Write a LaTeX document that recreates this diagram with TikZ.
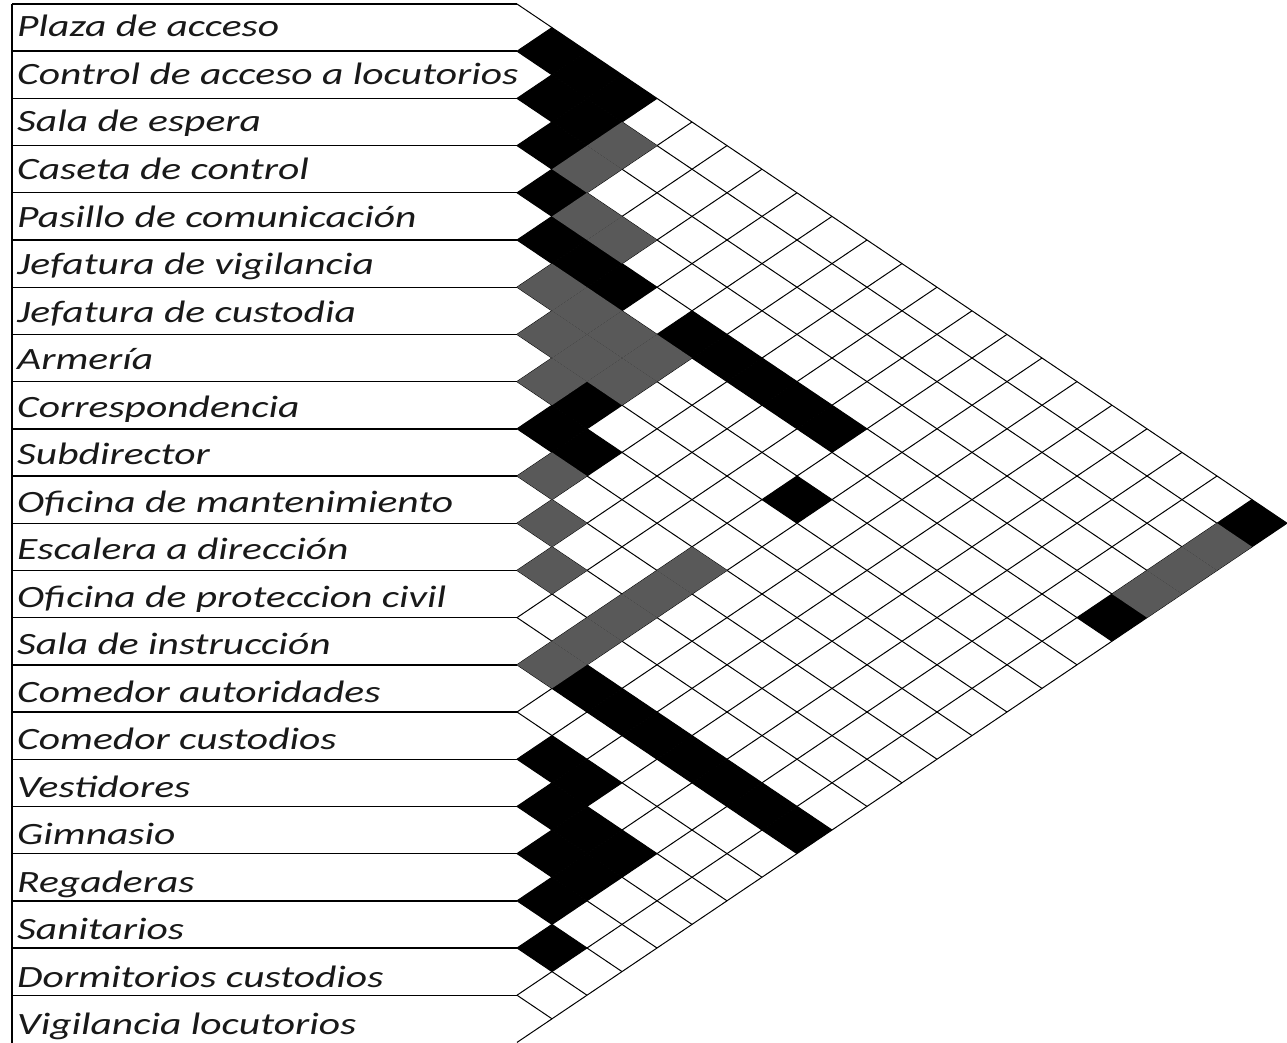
\documentclass[tikz,border=0pt]{standalone}
\usepackage{fontspec}
\setmainfont{Carlito}[FakeStretch=1.34]
\definecolor{grismedio}{RGB}{89,89,89}

\begin{document}
\begin{tikzpicture}[x=1pt,y=-1pt,
  linea/.style={line width=1pt},
  fila/.style={line width=1.4pt},
  etiqueta/.style={anchor=base west,inner sep=0pt,text=black!90,font=\fontsize{31}{36}\selectfont\itshape}]
\useasboundingbox (0,0) rectangle (1287,1043);
% espacios
\draw[fila] (12,4) -- (12,1043);
\foreach \k in {0,...,21} {
  \draw[fila] (12,{4+47.2*\k}) -- (517,{4+47.2*\k});
}
\foreach \nombre [count=\n] in {Plaza de acceso,Control de acceso a locutorios,Sala de espera,
  Caseta de control,Pasillo de comunicación,Jefatura de vigilancia,Jefatura de custodia,
  Armería,Correspondencia,Subdirector,Oficina de mantenimiento,Escalera a dirección,
  Oficina de proteccion civil,Sala de instrucción,Comedor autoridades,Comedor custodios,
  Vestidores,Gimnasio,Regaderas,Sanitarios,Dormitorios custodios,Vigilancia locutorios} {
  \node[etiqueta] (esp\n) at (17,{37+47.5*(\n-1)}) {\nombre};
}
% rejilla
\foreach \k in {0,...,22} {
  \draw[linea] (517,{4+47.2*\k}) -- ++({35*(22-\k)},{23.6*(22-\k)});
  \draw[linea] (517,{4+47.2*\k}) -- ++({35*\k},{-23.6*\k});
}
% relacion directa
\foreach \i/\j in {1/2,1/3,1/4,2/3,2/4,3/4,4/5,5/6,5/7,5/8,5/10,5/11,5/12,5/13,5/14,
  8/10,9/10,9/11,7/15,14/16,14/17,14/18,14/19,14/20,14/21,14/22,16/17,16/18,17/18,
  17/19,17/20,18/19,18/20,19/20,20/21,1/22,5/22} {
  \fill[black] ({517+35*(\j-\i)},{4+23.6*(\i+\j-1)}) ++(-35,0) -- ++(35,-23.6)
    -- ++(35,23.6) -- ++(-35,23.6) -- cycle;
}
% relacion indirecta
\foreach \i/\j in {2/5,3/5,4/6,4/7,6/7,6/8,6/9,6/10,7/8,7/9,7/10,8/9,10/11,11/12,
  12/13,10/15,11/15,12/15,13/15,14/15,2/22,3/22,4/22} {
  \fill[grismedio] ({517+35*(\j-\i)},{4+23.6*(\i+\j-1)}) ++(-35,0) -- ++(35,-23.6)
    -- ++(35,23.6) -- ++(-35,23.6) -- cycle;
}
\end{tikzpicture}
\end{document}
